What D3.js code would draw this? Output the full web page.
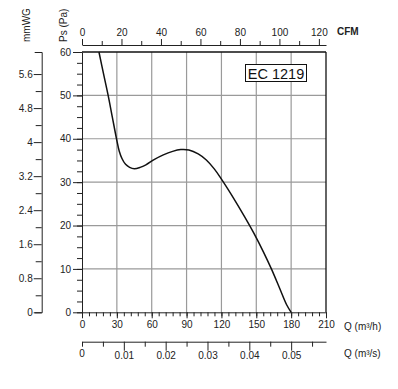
<!DOCTYPE html>
<html>
<head>
<meta charset="utf-8">
<script src="https://cdn.jsdelivr.net/npm/d3@7"></script>
<style>
  body { margin: 0; background: #fff; }
  text { font-family: "Liberation Sans", Arial, sans-serif; }
</style>
</head>
<body>
<div id="chart"></div>
<script>
// Fan curve EC 1219: static pressure vs airflow
const flowM3h = [14.6, 18.5, 22.5, 26.1, 29.7, 32, 34.5, 37.5, 41, 45, 50, 55, 62, 70, 78, 85, 92, 100, 107, 114, 120, 130, 140, 148, 156, 163, 170, 176, 180];
const pressurePa = [60, 55, 50, 45, 40, 37.2, 35.4, 34.1, 33.4, 33.1, 33.4, 34, 35.2, 36.3, 37.1, 37.5, 37.4, 36.5, 35.1, 33, 30.7, 26.5, 22, 18.2, 14, 10, 5.6, 1.8, 0];

const qTicks = [0, 30, 60, 90, 120, 150, 180, 210];
const psTicks = [0, 10, 20, 30, 40, 50, 60];
const cfmTicks = [0, 20, 40, 60, 80, 100, 120];
const mmwgTicks = [0, 0.8, 1.6, 2.4, 3.2, 4, 4.8, 5.6];
const m3sTicks = [0.01, 0.02, 0.03, 0.04, 0.05];
const modelName = "EC 1219";

const margin = {top: 52, left: 82, right: 72, bottom: 77};
const owidth = 398, oheight = 389;
const width = owidth - margin.left - margin.right;
const height = 312.3 - margin.top;

const svg = d3.select("#chart").append("svg")
  .attr("width", owidth)
  .attr("height", oheight);

const canvas = svg.append("g")
  .attr("transform", `translate(${margin.left}, ${margin.top})`);

// scales
const xSc = d3.scaleLinear().domain([0, 210]).range([0, width]);
const ySc = d3.scaleLinear().domain([0, 60]).range([height, 0]);
const cfmSc = d3.scaleLinear().domain([0, 210 / 1.69901]).range([0, width]);
const m3sSc = d3.scaleLinear().domain([0, 210 / 3600]).range([0, width]);
const mmSc = d3.scaleLinear().domain([0, 60 / 9.80665]).range([height, 0]);

const txt = "#222";
function styleAxis(g) {
  g.selectAll("text").attr("fill", txt).attr("font-size", 10)
    .attr("font-family", '"Liberation Sans", Arial, sans-serif');
  g.selectAll("line").attr("stroke", "#222");
  g.select(".domain").attr("stroke", "#222");
}
function minor(g, axis) {
  g.call(axis);
  g.selectAll("text").remove();
  g.select(".domain").remove();
  g.selectAll("line").attr("stroke", "#222");
}

// grid
canvas.append("g").selectAll("line")
  .data(qTicks.filter(d => d > 0 && d < 210))
  .join("line")
  .attr("x1", d => xSc(d)).attr("x2", d => xSc(d))
  .attr("y1", 0).attr("y2", height)
  .attr("stroke", "#9a9a9a").attr("stroke-width", 1.2);
canvas.append("g").selectAll("line")
  .data(psTicks.filter(d => d > 0 && d < 60))
  .join("line")
  .attr("x1", 0).attr("x2", width)
  .attr("y1", d => ySc(d)).attr("y2", d => ySc(d))
  .attr("stroke", "#9a9a9a").attr("stroke-width", 1.2);

// frame top and right
canvas.append("line").attr("x1", 0).attr("x2", width).attr("y1", 0).attr("y2", 0)
  .attr("stroke", "#111").attr("stroke-width", 1.3);
canvas.append("line").attr("x1", width).attr("x2", width).attr("y1", 0).attr("y2", height)
  .attr("stroke", "#111").attr("stroke-width", 1.3);

// curve
const pts = flowM3h.map((q, i) => [q, pressurePa[i]]);
canvas.append("path")
  .datum(pts)
  .attr("fill", "none")
  .attr("stroke", "#111")
  .attr("stroke-width", 1.5)
  .attr("d", d3.line().x(d => xSc(d[0])).y(d => ySc(d[1])).curve(d3.curveCatmullRom.alpha(0.5)));

// bottom Q (m3/h)
canvas.append("g").attr("transform", `translate(0, ${height})`)
  .call(g => minor(g, d3.axisBottom(xSc).tickValues(d3.range(0, 211, 6)).tickSize(4)));
canvas.append("g").attr("transform", `translate(0, ${height})`)
  .call(d3.axisBottom(xSc).tickValues(qTicks).tickSize(6).tickPadding(3).tickSizeOuter(0))
  .call(styleAxis);

// left Ps (Pa)
canvas.append("g")
  .call(g => minor(g, d3.axisLeft(ySc).tickValues(d3.range(0, 60.1, 2.5)).tickSize(5)));
canvas.append("g")
  .call(d3.axisLeft(ySc).tickValues(psTicks).tickSize(9).tickPadding(2).tickSizeOuter(0))
  .call(styleAxis);

// top CFM
canvas.append("g").attr("transform", "translate(0, -7)")
  .call(g => minor(g, d3.axisTop(cfmSc).tickValues(d3.range(10, 121, 20)).tickSize(4)));
canvas.append("g").attr("transform", "translate(0, -7)")
  .call(d3.axisTop(cfmSc).tickValues(cfmTicks).tickSize(6).tickPadding(3).tickSizeOuter(0))
  .call(styleAxis);

// left mmWG
canvas.append("g").attr("transform", "translate(-40.3, 0)")
  .call(g => minor(g, d3.axisLeft(mmSc).tickValues(d3.range(0.4, 6, 0.8)).tickSize(6)));
canvas.append("g").attr("transform", "translate(-40.3, 0)")
  .call(d3.axisLeft(mmSc).tickValues(mmwgTicks).tickSize(8).tickPadding(1).tickSizeOuter(7)
    .tickFormat(d3.format(".1~f")))
  .call(styleAxis);

// bottom Q (m3/s)
const m3sG = canvas.append("g").attr("transform", `translate(0, ${height + 29.4})`);
m3sG.append("g")
  .call(g => minor(g, d3.axisBottom(m3sSc).tickValues([0, 0.005, 0.015, 0.025, 0.035, 0.045, 0.055]).tickSize(5)));
m3sG.append("g")
  .call(d3.axisBottom(m3sSc).tickValues(m3sTicks).tickSize(9).tickPadding(1).tickSizeOuter(0)
    .tickFormat(d3.format(".2f")))
  .call(styleAxis);
m3sG.append("text")
  .attr("x", m3sSc(0)).attr("y", 8).attr("dy", "0.71em")
  .attr("text-anchor", "middle").attr("font-size", 10).attr("fill", txt)
  .text("0");

// axis titles
svg.append("text")
  .attr("transform", "translate(30, 42) rotate(-90)")
  .attr("font-size", 10).attr("fill", txt)
  .text("mmWG");
svg.append("text")
  .attr("transform", "translate(67, 42) rotate(-90)")
  .attr("font-size", 10).attr("fill", txt)
  .text("Ps (Pa)");
svg.append("text")
  .attr("x", 337).attr("y", 35)
  .attr("font-size", 10).attr("font-weight", "bold").attr("fill", txt)
  .text("CFM");
svg.append("text")
  .attr("x", 344).attr("y", 329.5)
  .attr("font-size", 10).attr("fill", txt)
  .text("Q (m³/h)");
svg.append("text")
  .attr("x", 344).attr("y", 357)
  .attr("font-size", 10).attr("fill", txt)
  .text("Q (m³/s)");

// model label box
const box = svg.append("g");
box.append("rect")
  .attr("x", 245.5).attr("y", 64.5).attr("width", 61).attr("height", 17)
  .attr("fill", "#fff").attr("stroke", "#111").attr("stroke-width", 1);
box.append("text")
  .attr("x", 276).attr("y", 78.5)
  .attr("text-anchor", "middle").attr("font-size", 14.5).attr("fill", "#111")
  .text(modelName);
</script>
</body>
</html>
